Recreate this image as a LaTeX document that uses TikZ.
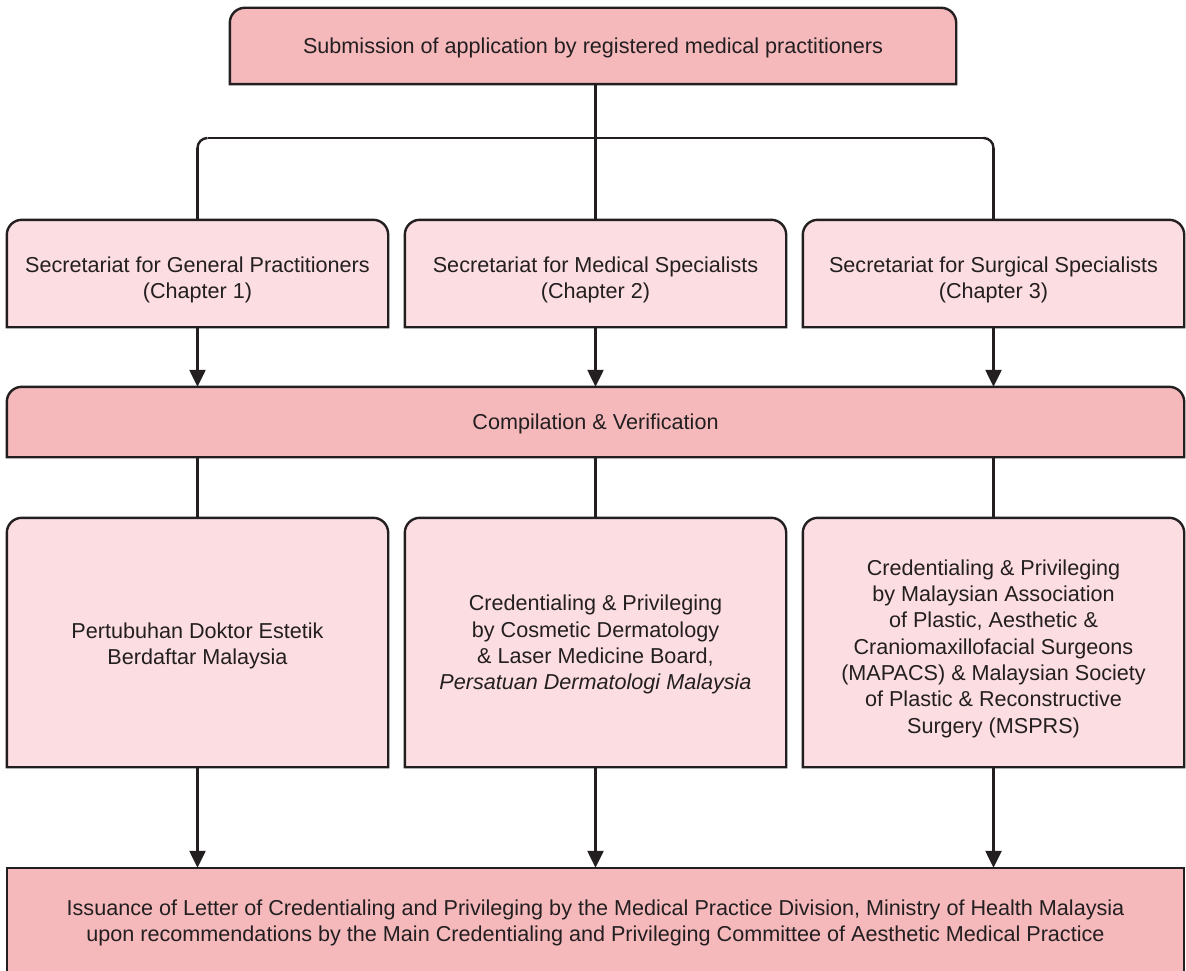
\documentclass[tikz,border=0pt]{standalone}
\usepackage{fontspec}
\setmainfont{Liberation Sans}
\usetikzlibrary{arrows.meta,backgrounds}
\definecolor{darkpink}{HTML}{F5B9BC}
\definecolor{lightpink}{HTML}{FCDDE1}
\definecolor{ink}{HTML}{231F20}
\newcommand{\drop}[1]{\rule{0pt}{#1}}
\begin{document}
\begin{tikzpicture}[x=1pt, y=-1pt, font=\fontsize{21.6}{26.3}\selectfont, text=ink, line width=2.4pt,
    main/.style = {align=center, inner sep=0pt},
    arr/.style = {draw=ink, line width=2.4pt, -{Triangle[width=16pt,length=17pt]}},
    link/.style = {draw=ink, line width=2.4pt}]
    \useasboundingbox (0,0) rectangle (1186,971);
    % boxes
    \node[main, minimum width=724pt, minimum height=74pt] (sub) at (593,46) {\drop{20pt}Submission of application by registered medical practitioners};
    \node[main, minimum width=379pt, minimum height=105pt] (sec1) at (197.5,273.5) {\drop{29pt}Secretariat for General Practitioners\\(Chapter 1)};
    \node[main, minimum width=379pt, minimum height=105pt] (sec2) at (595.5,273.5) {\drop{29pt}Secretariat for Medical Specialists\\(Chapter 2)};
    \node[main, minimum width=379pt, minimum height=105pt] (sec3) at (993.5,273.5) {\drop{29pt}Secretariat for Surgical Specialists\\(Chapter 3)};
    \node[main, minimum width=1175pt, minimum height=68pt] (comp) at (595.5,422) {\drop{20pt}Compilation \& Verification};
    \node[main, minimum width=379pt, minimum height=247pt] (cred1) at (197.5,642.5) {\drop{22pt}Pertubuhan Doktor Estetik\\Berdaftar Malaysia};
    \node[main, minimum width=379pt, minimum height=247pt] (cred2) at (595.5,642.5) {\drop{20pt}Credentialing \& Privileging\\by Cosmetic Dermatology\\\& Laser Medicine Board,\\\textit{Persatuan Dermatologi Malaysia}};
    \node[main, minimum width=379pt, minimum height=247pt] (cred3) at (993.5,642.5) {\drop{28pt}Credentialing \& Privileging\\by Malaysian Association\\of Plastic, Aesthetic \&\\Craniomaxillofacial Surgeons\\(MAPACS) \& Malaysian Society\\of Plastic \& Reconstructive\\Surgery (MSPRS)};
    \node[main, minimum width=1175pt, minimum height=106pt] (iss) at (595.5,922) {\drop{18pt}Issuance of Letter of Credentialing and Privileging by the Medical Practice Division, Ministry of Health Malaysia\\upon recommendations by the Main Credentialing and Privileging Committee of Aesthetic Medical Practice};
    \begin{scope}[on background layer]
        \foreach \n/\c in {sub/darkpink, sec1/lightpink, sec2/lightpink, sec3/lightpink, comp/darkpink, cred1/lightpink, cred2/lightpink, cred3/lightpink}
            \draw[link, fill=\c] (\n.south west) {[rounded corners=15pt] -- (\n.north west) -- (\n.north east)} -- (\n.south east) -- cycle;
        \draw[link, fill=darkpink] (iss.south west) rectangle (iss.north east);
    \end{scope}
    % connectors
    \coordinate (fork) at (sec2.north |- 0,138);
    \coordinate (c1) at ([shift={(0,10)}]sec1.north |- fork);
    \coordinate (c2) at ([shift={(10,0)}]sec1.north |- fork);
    \coordinate (c3) at ([shift={(-10,0)}]sec3.north |- fork);
    \coordinate (c4) at ([shift={(0,10)}]sec3.north |- fork);
    \draw[link] (sec1.north) -- (c1);
    \draw[link] (c1) arc[start angle=180, end angle=270, radius=10];
    \draw[link] (c2) -- (c3);
    \draw[link] (c3) arc[start angle=270, end angle=360, radius=10];
    \draw[link] (c4) -- (sec3.north);
    \draw[link] (sub.south -| sec2.north) -- (sec2.north);
    \foreach \s in {1,2,3} {
        \draw[arr] (sec\s.south) -- (sec\s.south |- comp.north);
        \draw[link] (comp.south -| cred\s.north) -- (cred\s.north);
        \draw[arr] (cred\s.south) -- (cred\s.south |- iss.north);
    }
\end{tikzpicture}
\end{document}
